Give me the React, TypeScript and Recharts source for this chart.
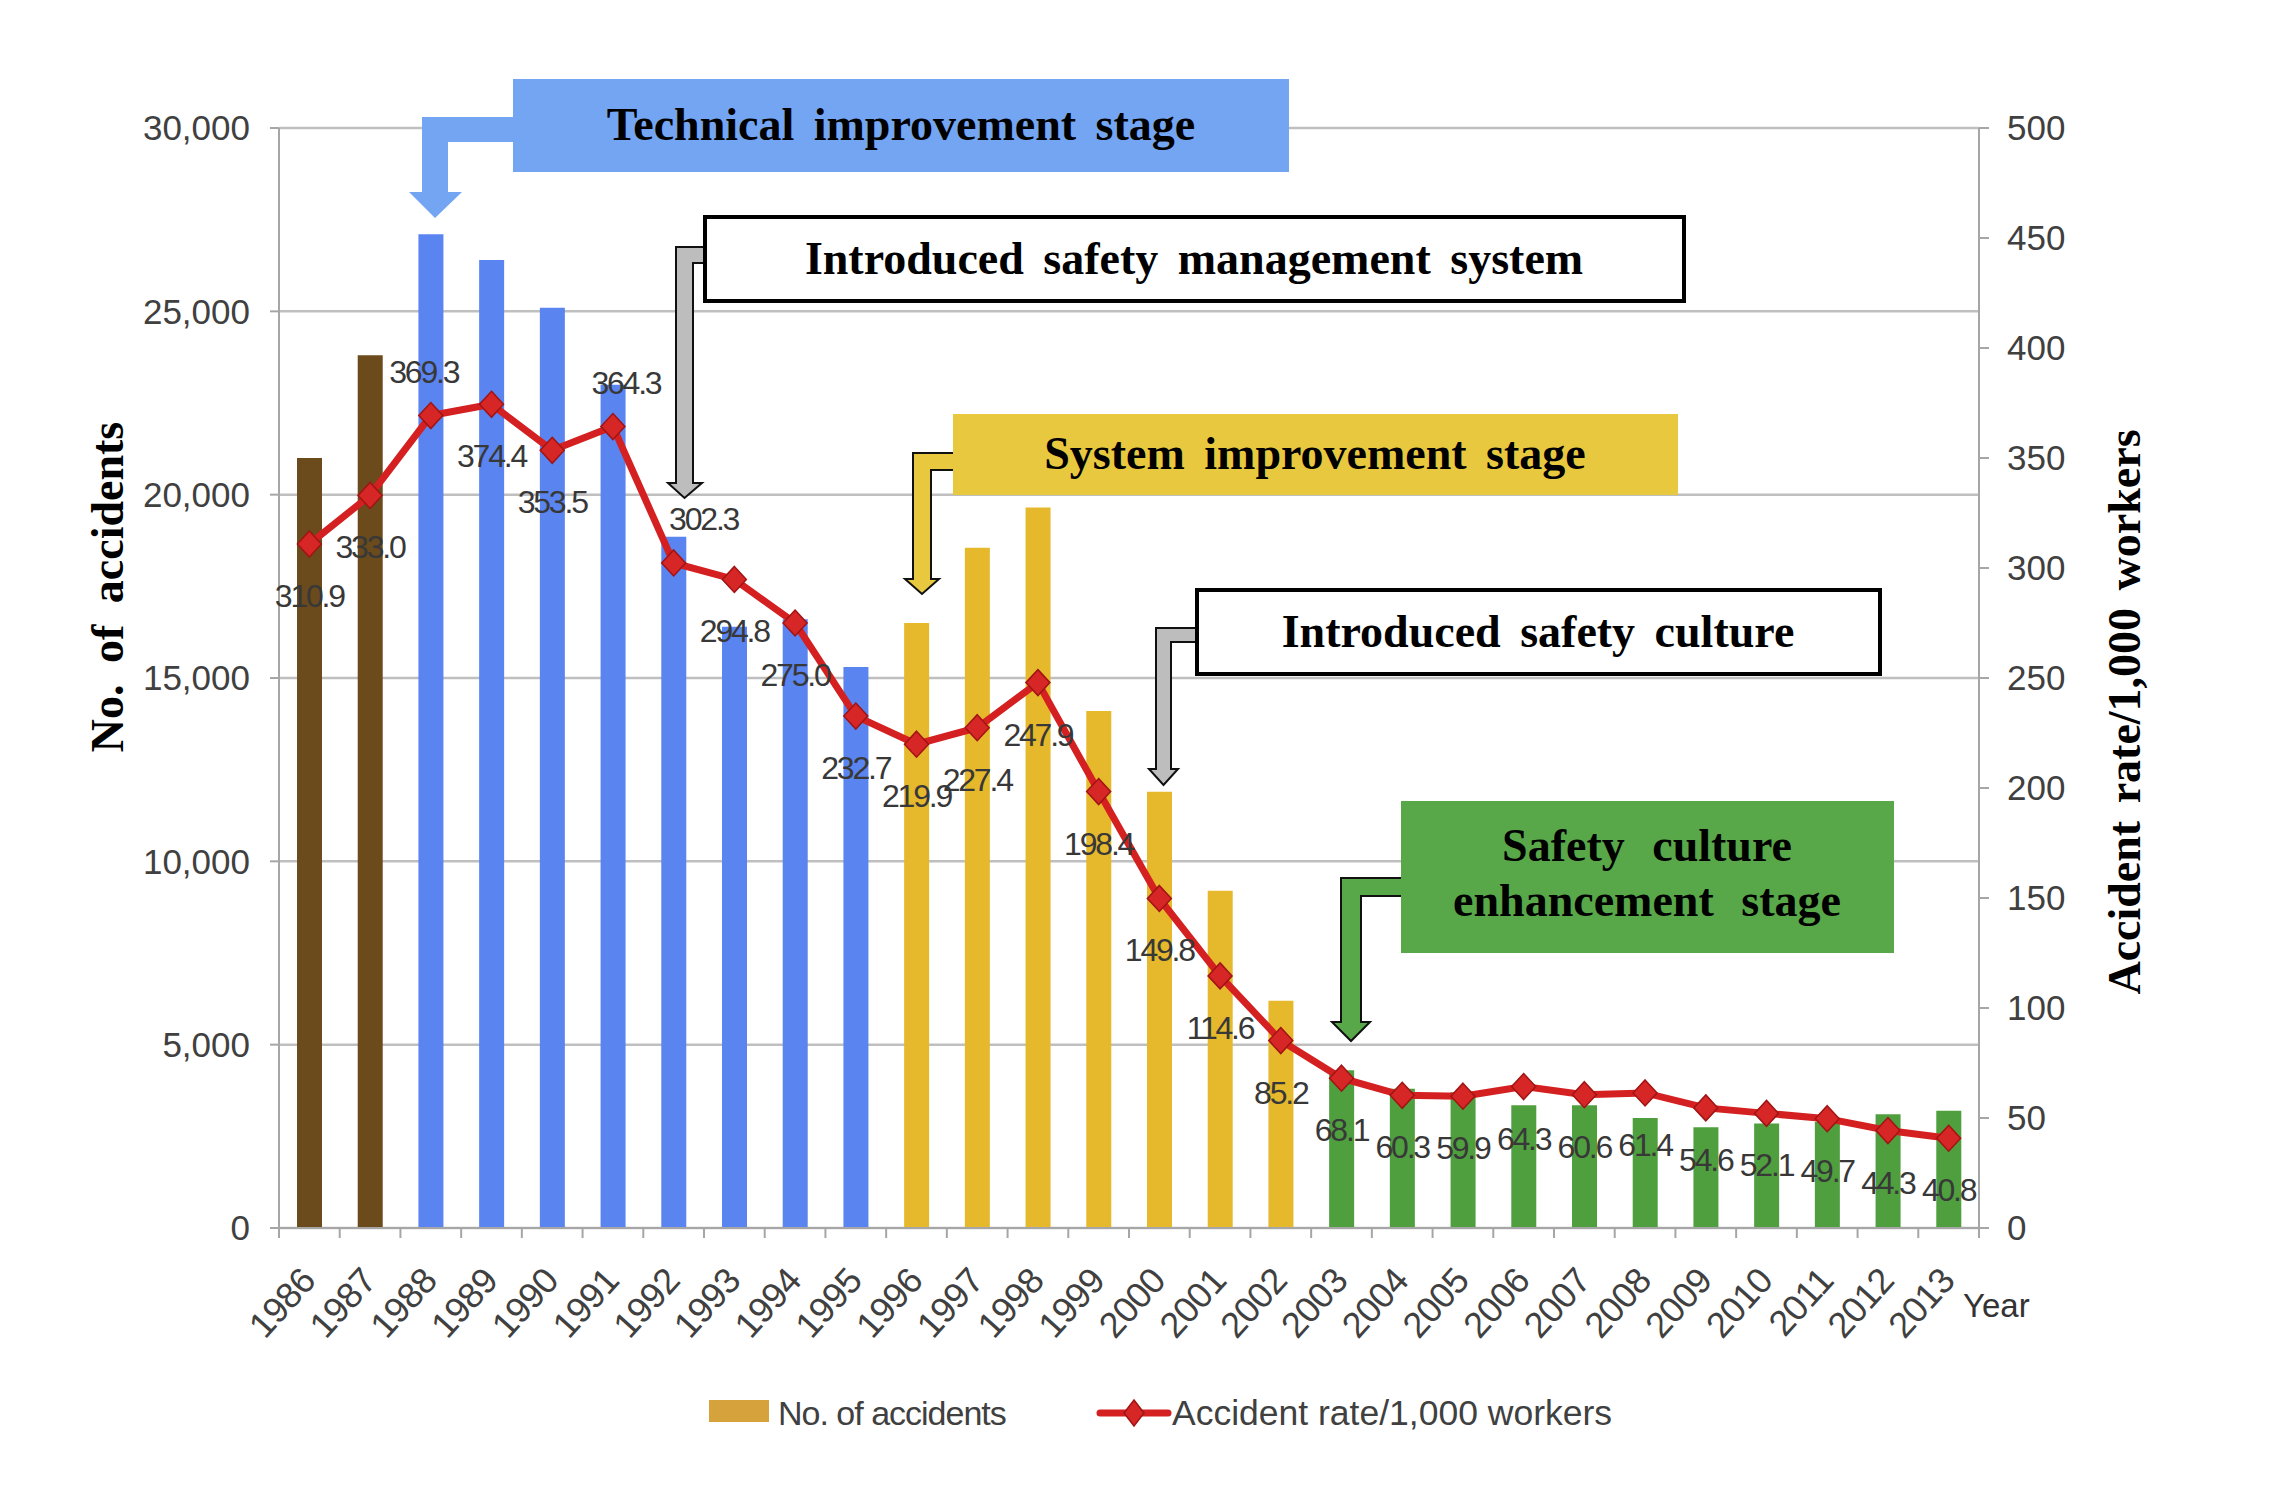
import React from "react";
import {
  ComposedChart,
  Bar,
  Line,
  XAxis,
  YAxis,
  CartesianGrid,
  Cell,
  LabelList,
} from "recharts";

const years = [
  "1986", "1987", "1988", "1989", "1990", "1991", "1992", "1993", "1994", "1995",
  "1996", "1997", "1998", "1999", "2000", "2001", "2002", "2003", "2004", "2005",
  "2006", "2007", "2008", "2009", "2010", "2011", "2012", "2013",
];

const accidents = [
  21000, 23800, 27100, 26400, 25100, 23000, 18850, 16400, 16600, 15300,
  16500, 18550, 19650, 14100, 11900, 9200, 6200, 4300, 3800, 3700,
  3350, 3350, 3000, 2750, 2850, 2900, 3100, 3200,
];

const accidentRate = [
  310.9, 333.0, 369.3, 374.4, 353.5, 364.3, 302.3, 294.8, 275.0, 232.7,
  219.9, 227.4, 247.9, 198.4, 149.8, 114.6, 85.2, 68.1, 60.3, 59.9,
  64.3, 60.6, 61.4, 54.6, 52.1, 49.7, 44.3, 40.8,
];

const leftTicks = [0, 5000, 10000, 15000, 20000, 25000, 30000];
const rightTicks = [0, 50, 100, 150, 200, 250, 300, 350, 400, 450, 500];

// first year of each stage -> bar colour
const stageStarts = [
  { from: 1986, color: "#6B4A1C" },
  { from: 1988, color: "#5A84F0" },
  { from: 1996, color: "#E6B82C" },
  { from: 2003, color: "#4F9F3F" },
];

const data = years.map((y, i) => ({
  year: y,
  accidents: accidents[i],
  rate: accidentRate[i],
}));

const barColor = (year: string) => {
  let c = stageStarts[0].color;
  stageStarts.forEach((s) => {
    if (Number(year) >= s.from) c = s.color;
  });
  return c;
};

const W = 2261;
const H = 1493;
const PLOT_LEFT = 271;
const PLOT_RIGHT = 1971;
const BAND = (PLOT_RIGHT - PLOT_LEFT) / years.length;
const AXIS = "#A6A6A6";
const GRID = "#BFBFBF";
const TXT = "#404040";
const SANS = "'Liberation Sans', Arial, sans-serif";
const SERIF = "'Liberation Serif', 'Times New Roman', serif";
const RED = "#D42020";

// labels drawn above the point instead of below
const labelAbove: Record<string, number> = { "1988": -7, "1991": 13, "1992": 30 };

const XTick = (props: any) => {
  const { x, y, payload, index } = props;
  const tx = x + 8;
  const ty = y + 54;
  return (
    <g>
      <line x1={x - BAND / 2} x2={x - BAND / 2} y1={y} y2={y + 10} stroke={AXIS} strokeWidth={2} />
      {index === years.length - 1 && (
        <line x1={x + BAND / 2} x2={x + BAND / 2} y1={y} y2={y + 10} stroke={AXIS} strokeWidth={2} />
      )}
      <text
        x={tx}
        y={ty}
        transform={`rotate(-48 ${tx} ${ty})`}
        textAnchor="end"
        fontSize={36}
        letterSpacing={-0.5}
        fontFamily={SANS}
        fill={TXT}
      >
        {payload.value}
      </text>
    </g>
  );
};

const Diamond = (props: any) => {
  const { cx, cy, index } = props;
  if (cx == null || cy == null) return null;
  return (
    <path
      key={`d-${index}`}
      d={`M${cx} ${cy - 13} L${cx + 12} ${cy} L${cx} ${cy + 13} L${cx - 12} ${cy} Z`}
      fill="#D62626"
      stroke="#A01414"
      strokeWidth={1.5}
    />
  );
};

const RateLabel = (props: any) => {
  const { x, y, value, index } = props;
  const yr = years[index];
  const above = yr in labelAbove;
  const dx = above ? labelAbove[yr] : 0;
  const dy = above ? -44 : 52;
  return (
    <text
      x={x + dx}
      y={y + dy}
      textAnchor="middle"
      dominantBaseline="central"
      fontSize={32}
      letterSpacing={-2.2}
      fontFamily={SANS}
      fill="#383838"
    >
      {Number(value).toFixed(1)}
    </text>
  );
};

type ArrowSpec = {
  bx: number; t: number; b: number; ox: number; ix: number;
  hy: number; hl: number; hr: number; ty: number; fill: string; stroke?: string;
};

const ElbowArrow = ({ bx, t, b, ox, ix, hy, hl, hr, ty, fill, stroke }: ArrowSpec) => (
  <polygon
    points={`${bx},${t} ${ox},${t} ${ox},${hy} ${hl},${hy} ${(ox + ix) / 2},${ty} ${hr},${hy} ${ix},${hy} ${ix},${b} ${bx},${b}`}
    fill={fill}
    stroke={stroke || "none"}
    strokeWidth={2}
    strokeLinejoin="miter"
  />
);

const boxText = {
  fontFamily: SERIF,
  fontWeight: 700,
  fontSize: 46,
  fill: "#000",
  textAnchor: "middle" as const,
  dominantBaseline: "central" as const,
  wordSpacing: 8,
};

const Overlay = () => (
  <svg
    width={2277}
    height={1509}
    style={{ position: "absolute", left: -8, top: -8, pointerEvents: "none" }}
  >
    {/* Technical improvement stage */}
    <ElbowArrow bx={514} t={117} b={142} ox={422} ix={448} hy={192} hl={409} hr={462} ty={218} fill="#73A5F2" />
    <rect x={513} y={79} width={776} height={93} fill="#73A5F2" />
    <text x={901} y={124} {...boxText}>Technical improvement stage</text>

    {/* Introduced safety management system */}
    <ElbowArrow bx={705} t={247} b={263} ox={676} ix={693} hy={483} hl={668} hr={702} ty={498} fill="#BDBDBD" stroke="#111" />
    <rect x={705} y={217} width={979} height={84} fill="#fff" stroke="#000" strokeWidth={4} />
    <text x={1194} y={258} {...boxText}>Introduced safety management system</text>

    {/* System improvement stage */}
    <ElbowArrow bx={954} t={453} b={470} ox={913} ix={931} hy={579} hl={905} hr={939} ty={594} fill="#E8C83F" stroke="#111" />
    <rect x={953} y={414} width={725} height={81} fill="#E8C83F" />
    <text x={1315} y={453} {...boxText}>System improvement stage</text>

    {/* Introduced safety culture */}
    <ElbowArrow bx={1197} t={628} b={642} ox={1156} ix={1171} hy={769} hl={1149} hr={1178} ty={785} fill="#BDBDBD" stroke="#111" />
    <rect x={1197} y={590} width={683} height={84} fill="#fff" stroke="#000" strokeWidth={4} />
    <text x={1538} y={631} {...boxText}>Introduced safety culture</text>

    {/* Safety culture enhancement stage */}
    <ElbowArrow bx={1402} t={878} b={896} ox={1341} ix={1361} hy={1022} hl={1332} hr={1370} ty={1041} fill="#58A84A" stroke="#111" />
    <rect x={1401} y={801} width={493} height={152} fill="#58A84A" />
    <text x={1647} y={845} {...boxText} wordSpacing={16}>Safety culture</text>
    <text x={1647} y={900} {...boxText} wordSpacing={16}>enhancement stage</text>

    {/* axis titles */}
    <text
      x={107}
      y={587}
      transform="rotate(-90 107 587)"
      {...boxText}
      wordSpacing={10}
    >
      No. of accidents
    </text>
    <text
      x={2124}
      y={712}
      transform="rotate(-90 2124 712)"
      {...boxText}
      wordSpacing={6}
    >
      Accident rate/1,000 workers
    </text>
    <text x={1963} y={1317} fontSize={33} fontFamily={SANS} fill="#333">
      Year
    </text>

    {/* legend */}
    <rect x={709} y={1400} width={60} height={22} fill="#D5A23B" />
    <text x={778} y={1413} fontSize={34} fontFamily={SANS} fill={TXT} dominantBaseline="central" letterSpacing={-1}>
      No. of accidents
    </text>
    <line x1={1100} x2={1168} y1={1413} y2={1413} stroke={RED} strokeWidth={7} strokeLinecap="round" />
    <path d="M1134 1400 L1144 1413 L1134 1426 L1124 1413 Z" fill="#D62626" stroke="#A01414" strokeWidth={1.5} />
    <text x={1172} y={1413} fontSize={35.5} fontFamily={SANS} fill={TXT} dominantBaseline="central">
      Accident rate/1,000 workers
    </text>
  </svg>
);

export default function App() {
  return (
    <div style={{ position: "relative", width: W, height: H, fontFamily: SANS }}>
      <ComposedChart
        width={W}
        height={H}
        data={data}
        margin={{ top: 120, right: 0, bottom: 0, left: 0 }}
      >
        <CartesianGrid
          yAxisId="left"
          vertical={false}
          stroke={GRID}
          strokeWidth={2.5}
        />
        <XAxis
          dataKey="year"
          height={273}
          interval={0}
          tickLine={false}
          tickSize={0}
          tickMargin={0}
          axisLine={{ stroke: AXIS, strokeWidth: 2 }}
          tick={<XTick />}
        />
        <YAxis
          yAxisId="left"
          orientation="left"
          width={271}
          domain={[0, 30000]}
          ticks={leftTicks}
          interval={0}
          tickFormatter={(v: number) => v.toLocaleString("en-US")}
          tickSize={9}
          tickMargin={20}
          axisLine={{ stroke: AXIS, strokeWidth: 2 }}
          tickLine={{ stroke: AXIS, strokeWidth: 2 }}
          tick={{ fontSize: 35, fill: TXT, fontFamily: SANS }}
        />
        <YAxis
          yAxisId="right"
          orientation="right"
          width={290}
          domain={[0, 500]}
          ticks={rightTicks}
          interval={0}
          tickSize={10}
          tickMargin={18}
          axisLine={{ stroke: AXIS, strokeWidth: 2 }}
          tickLine={{ stroke: AXIS, strokeWidth: 2 }}
          tick={{ fontSize: 35, fill: TXT, fontFamily: SANS }}
        />
        <Bar
          yAxisId="left"
          dataKey="accidents"
          name="No. of accidents"
          barSize={25}
          isAnimationActive={false}
        >
          {data.map((d) => (
            <Cell key={d.year} fill={barColor(d.year)} />
          ))}
        </Bar>
        <Line
          yAxisId="right"
          type="linear"
          dataKey="rate"
          name="Accident rate/1,000 workers"
          stroke={RED}
          strokeWidth={7}
          dot={<Diamond />}
          activeDot={false}
          isAnimationActive={false}
        >
          <LabelList dataKey="rate" content={<RateLabel />} />
        </Line>
      </ComposedChart>
      <Overlay />
    </div>
  );
}
